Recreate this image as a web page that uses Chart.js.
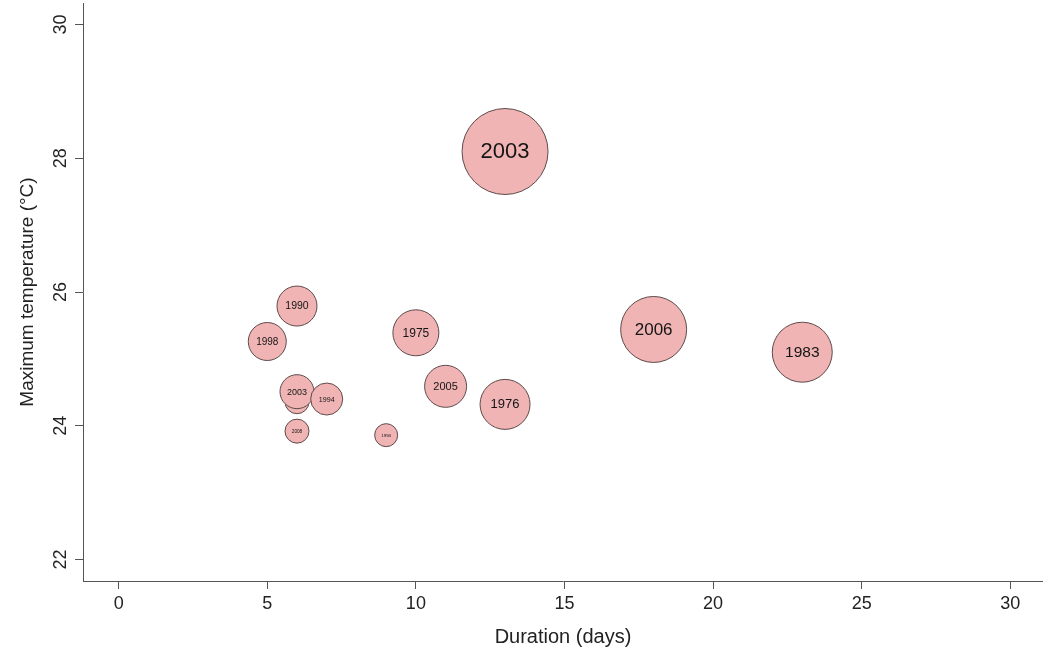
<!DOCTYPE html>
<html><head><meta charset="utf-8">
<script src="https://cdn.jsdelivr.net/npm/chart.js@4/dist/chart.umd.min.js"></script>
<style>html,body{margin:0;padding:0;background:#fff;overflow:hidden}canvas{display:block}</style>
</head><body><canvas id="c" width="1043" height="653"></canvas>
<script>
// Data
const years      = ['1998','1990','1975','2005','1976','2003','2006','1983','',    '2003','1994','2008','1994'];
const durations  = [5,     6,     10,    11,    13,    13,    18,    23,    6,     6,     7,     6,     9];
const maxTemps   = [25.26, 25.79, 25.39, 24.59, 24.32, 28.10, 25.44, 25.10, 24.36, 24.51, 24.40, 23.92, 23.86];
const bubbleSize = [19,    20,    23,    21,    25,    43,    33,    30,    12,    17,    16,    12,    11.5];
const xTicks = [0, 5, 10, 15, 20, 25, 30];
const yTicks = [22, 24, 26, 28, 30];

const FONT = "'Liberation Sans', Arial, Helvetica, sans-serif";
const AXIS = '#555555';

const points = durations.map((d, i) => ({x: d, y: maxTemps[i], r: bubbleSize[i]}));

const labelPlugin = {
  id: 'bubbleLabels',
  afterDatasetsDraw(chart) {
    const ctx = chart.ctx;
    const meta = chart.getDatasetMeta(0);
    ctx.save();
    ctx.fillStyle = '#151515';
    ctx.textAlign = 'center';
    ctx.textBaseline = 'middle';
    meta.data.forEach((el, i) => {
      const txt = years[i];
      if (!txt) return;
      const r = bubbleSize[i];
      const fs = r >= 17 ? 0.5 * r + 0.5 : 0.6 * r - 2.5;
      ctx.font = fs.toFixed(1) + 'px ' + FONT;
      ctx.fillText(txt, el.x, el.y + 0.5);
    });
    ctx.restore();
  }
};

new Chart(document.getElementById('c'), {
  type: 'bubble',
  data: {
    datasets: [{
      data: points,
      backgroundColor: '#efb4b3',
      borderColor: '#5e4a4a',
      borderWidth: 1,
      hoverBackgroundColor: '#efb4b3',
      hoverBorderColor: '#5e4a4a'
    }]
  },
  options: {
    responsive: false,
    devicePixelRatio: 1,
    animation: false,
    events: [],
    layout: {autoPadding: false, padding: {top: 3, left: 0, right: 0, bottom: 0}},
    plugins: {legend: {display: false}, tooltip: {enabled: false}},
    scales: {
      x: {
        type: 'linear',
        min: -1.2, max: 31.1,
        afterBuildTicks: s => { s.ticks = xTicks.map(v => ({value: v})); },
        afterFit: s => { s.height = 72; s.paddingLeft = 0; s.paddingRight = 0; },
        border: {display: true, color: AXIS, width: 1},
        grid: {display: true, drawOnChartArea: false, drawTicks: true, tickLength: 8, tickColor: AXIS},
        ticks: {autoSkip: false, maxRotation: 0, minRotation: 0, padding: 4, color: '#222', font: {family: FONT, size: 18}},
        title: {display: true, text: 'Duration (days)', color: '#222', font: {family: FONT, size: 20}, padding: {top: 0, bottom: 4}}
      },
      y: {
        type: 'linear',
        min: 21.68, max: 30.32,
        afterBuildTicks: s => { s.ticks = yTicks.map(v => ({value: v})); },
        afterFit: s => { s.width = 83; s.paddingTop = 0; s.paddingBottom = 0; },
        border: {display: true, color: AXIS, width: 1},
        grid: {display: true, drawOnChartArea: false, drawTicks: true, tickLength: 8, tickColor: AXIS},
        ticks: {autoSkip: false, minRotation: 90, maxRotation: 90, crossAlign: 'center', padding: 4, color: '#222', font: {family: FONT, size: 18}},
        title: {display: true, text: 'Maximum temperature (°C)', color: '#222', font: {family: FONT, size: 19}, padding: {top: 16, bottom: 0}}
      }
    }
  },
  plugins: [labelPlugin]
});
</script>
</body></html>
